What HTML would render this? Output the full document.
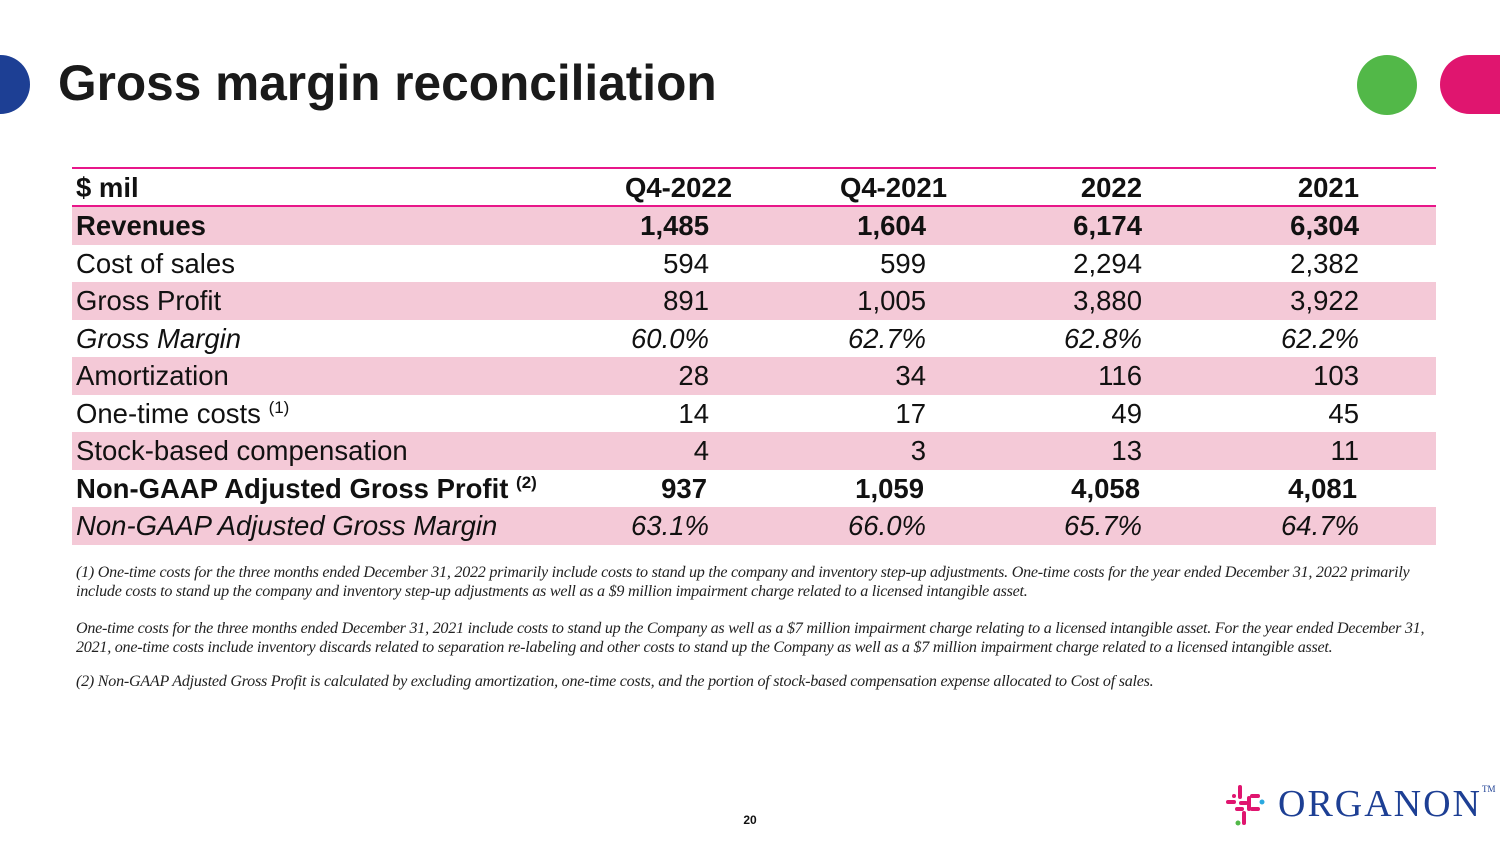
<!DOCTYPE html>
<html><head><meta charset="utf-8"><style>
body{margin:0;width:1500px;height:844px;position:relative;background:#fff;font-family:"Liberation Sans",Arial,sans-serif;overflow:hidden;color:#111}
.abs{position:absolute}
.row{position:absolute;left:72px;width:1364px;height:37.5px}
.row.pink{background:#f4c9d7}
.c{position:absolute;top:0;line-height:37.5px;font-size:27.5px;white-space:nowrap}
.lab{left:4px}
.n1{right:727px}.n2{right:510px}.n3{right:294px}.n4{right:77px}
.b{font-weight:bold}.i{font-style:italic}
sup{font-size:17px;position:relative;top:-10px;vertical-align:baseline;line-height:0}
.fn{position:absolute;left:76px;width:1355px;font-family:"Liberation Serif",serif;font-style:italic;font-size:16.1px;line-height:19px;color:#222;letter-spacing:-0.25px}
</style></head><body>
<div class="abs" style="left:-29px;top:55px;width:59px;height:59px;border-radius:50%;background:#1d3f94"></div>
<div class="abs" style="left:58px;top:54px;font-size:49.6px;font-weight:bold;color:#1a1a1a">Gross margin reconciliation</div>
<div class="abs" style="left:1357px;top:55px;width:60px;height:60px;border-radius:50%;background:#52b848"></div>
<div class="abs" style="left:1440px;top:55px;width:120px;height:59px;border-radius:30px;background:#e0156f"></div>

<div class="abs" style="left:72px;top:167px;width:1364px;height:2px;background:#e8168a"></div>
<div class="row" style="top:169px">
<div class="c lab b">$ mil</div><div class="c b" style="right:704px">Q4-2022</div><div class="c b" style="right:489px">Q4-2021</div><div class="c b" style="right:294px">2022</div><div class="c b" style="right:77px">2021</div></div>
<div class="abs" style="left:72px;top:205px;width:1364px;height:2px;background:#e8168a"></div>

<div class="row pink b" style="top:207px"><div class="c lab">Revenues</div><div class="c n1">1,485</div><div class="c n2">1,604</div><div class="c n3">6,174</div><div class="c n4">6,304</div></div>
<div class="row" style="top:244.5px"><div class="c lab">Cost of sales</div><div class="c n1">594</div><div class="c n2">599</div><div class="c n3">2,294</div><div class="c n4">2,382</div></div>
<div class="row pink" style="top:282px"><div class="c lab">Gross Profit</div><div class="c n1">891</div><div class="c n2">1,005</div><div class="c n3">3,880</div><div class="c n4">3,922</div></div>
<div class="row i" style="top:319.5px"><div class="c lab">Gross Margin</div><div class="c n1">60.0%</div><div class="c n2">62.7%</div><div class="c n3">62.8%</div><div class="c n4">62.2%</div></div>
<div class="row pink" style="top:357px"><div class="c lab">Amortization</div><div class="c n1">28</div><div class="c n2">34</div><div class="c n3">116</div><div class="c n4">103</div></div>
<div class="row" style="top:394.5px"><div class="c lab">One-time costs <sup>(1)</sup></div><div class="c n1">14</div><div class="c n2">17</div><div class="c n3">49</div><div class="c n4">45</div></div>
<div class="row pink" style="top:432px"><div class="c lab">Stock-based compensation</div><div class="c n1">4</div><div class="c n2">3</div><div class="c n3">13</div><div class="c n4">11</div></div>
<div class="row b" style="top:469.5px"><div class="c lab">Non-GAAP Adjusted Gross Profit <sup>(2)</sup></div><div class="c" style="right:729px">937</div><div class="c" style="right:512px">1,059</div><div class="c" style="right:296px">4,058</div><div class="c" style="right:79px">4,081</div></div>
<div class="row pink i" style="top:507px"><div class="c lab">Non-GAAP Adjusted Gross Margin</div><div class="c n1">63.1%</div><div class="c n2">66.0%</div><div class="c n3">65.7%</div><div class="c n4">64.7%</div></div>

<div class="fn" style="top:563px">(1) One-time costs for the three months ended December 31, 2022 primarily include costs to stand up the company and inventory step-up adjustments. One-time costs for the year ended December 31, 2022 primarily include costs to stand up the company and inventory step-up adjustments as well as a $9 million impairment charge related to a licensed intangible asset.</div>
<div class="fn" style="top:619px">One-time costs for the three months ended December 31, 2021 include costs to stand up the Company as well as a $7 million impairment charge relating to a licensed intangible asset. For the year ended December 31, 2021, one-time costs include inventory discards related to separation re-labeling and other costs to stand up the Company as well as a $7 million impairment charge related to a licensed intangible asset.</div>
<div class="fn" style="top:672px">(2) Non-GAAP Adjusted Gross Profit is calculated by excluding amortization, one-time costs, and the portion of stock-based compensation expense allocated to Cost of sales.</div>

<div class="abs" style="left:735px;top:813px;width:30px;text-align:center;font-size:12px;font-weight:bold">20</div>

<svg class="abs" style="left:1224px;top:783px" width="48" height="46" viewBox="0 0 48 46">
<g stroke="#e0156f" stroke-width="4" stroke-linecap="round">
<line x1="16" y1="4" x2="16" y2="14"/><line x1="25" y1="15" x2="25" y2="26"/><line x1="20" y1="30" x2="20" y2="40"/>
<line x1="4" y1="19" x2="10" y2="19"/><line x1="17" y1="20" x2="22" y2="20"/><line x1="28" y1="13" x2="34" y2="13"/>
<line x1="13" y1="26" x2="18" y2="26"/><line x1="28" y1="26" x2="34" y2="26"/></g>
<circle cx="38" cy="19" r="2.5" fill="#2aa9e0"/><circle cx="14" cy="40" r="2.5" fill="#52b848"/><circle cx="10" cy="13" r="2" fill="#e0156f"/></svg>
<div class="abs" style="left:1278px;top:782px;font-family:'Liberation Serif',serif;font-size:38px;color:#1d3f94;letter-spacing:2px">ORGANON<span style="font-size:9px;vertical-align:24px;letter-spacing:0">TM</span></div>
</body></html>
